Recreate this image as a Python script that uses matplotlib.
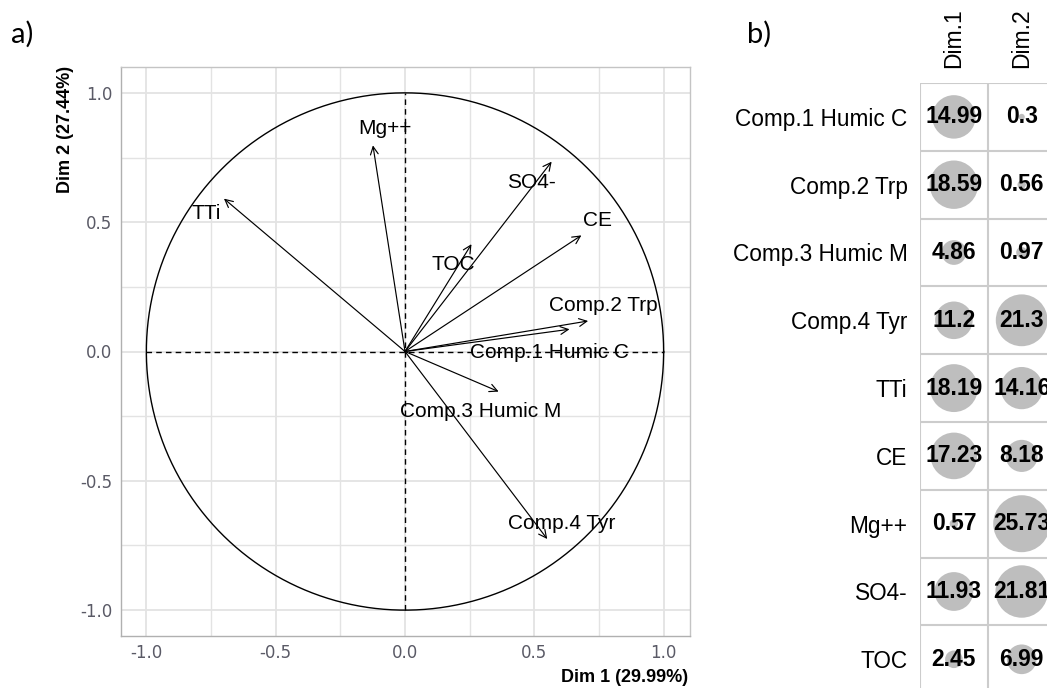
import matplotlib.pyplot as plt
import numpy as np

# PCA variables (correlation circle coords)
variables = ["Comp.1 Humic C", "Comp.2 Trp", "Comp.3 Humic M", "Comp.4 Tyr",
             "TTi", "CE", "Mg++", "SO4-", "TOC"]
dim1 = [0.636, 0.708, 0.362, 0.550, -0.700, 0.682, -0.124, 0.567, 0.257]
dim2 = [0.086, 0.118, -0.155, -0.725, 0.591, 0.449, 0.797, 0.734, 0.415]

# contributions (%) for panel b
contrib1 = [14.99, 18.59, 4.86, 11.2, 18.19, 17.23, 0.57, 11.93, 2.45]
contrib2 = [0.3, 0.56, 0.97, 21.3, 14.16, 8.18, 25.73, 21.81, 6.99]
contrib_cols = ["Dim.1", "Dim.2"]

xlab = "Dim 1 (29.99%)"
ylab = "Dim 2 (27.44%)"

# label offsets in pixels (dx, dy) from arrow tip
label_off = {"Comp.1 Humic C": (-20, -23), "Comp.2 Trp": (15, 15),
             "Comp.3 Humic M": (-18, -20), "Comp.4 Tyr": (14, 16),
             "TTi": (-18, -15), "CE": (16, 15), "Mg++": (12, 17),
             "SO4-": (-20, -21), "TOC": (-18, -20)}

W, H = 1047, 688
fig = plt.figure(figsize=(W / 100, H / 100), dpi=100)

# ---- panel a ----
ax = fig.add_axes([120 / W, 1 - 636 / H, 570 / W, 569 / H])
ax.set_xlim(-1.1, 1.1)
ax.set_ylim(-1.1, 1.1)
ax.set_xticks([-1, -0.5, 0, 0.5, 1])
ax.set_yticks([-1, -0.5, 0, 0.5, 1])
ax.set_xticks([-0.75, -0.25, 0.25, 0.75], minor=True)
ax.set_yticks([-0.75, -0.25, 0.25, 0.75], minor=True)
ax.set_xticklabels(["-1.0", "-0.5", "0.0", "0.5", "1.0"])
ax.set_yticklabels(["-1.0", "-0.5", "0.0", "0.5", "1.0"])
ax.grid(which="major", color="#E3E3E3", lw=1.3)
ax.grid(which="minor", color="#E3E3E3", lw=1.0)
ax.set_axisbelow(True)
ax.tick_params(which="both", length=0, labelsize=12, labelcolor="#5A5A66", pad=6)
for s in ax.spines.values():
    s.set_color("#C4C4C4")
    s.set_linewidth(1.0)
ax.spines["left"].set_color("#B0B0B0")
ax.spines["bottom"].set_color("#B0B0B0")

t = np.linspace(0, 2 * np.pi, 400)
ax.plot(np.cos(t), np.sin(t), color="black", lw=1.0)
ax.plot([-1, 1], [0, 0], color="black", ls=(0, (4, 3)), lw=1.0)
ax.plot([0, 0], [-1, 1], color="black", ls=(0, (4, 3)), lw=1.0)

for name, x, y in zip(variables, dim1, dim2):
    ax.annotate("", xy=(x, y), xytext=(0, 0),
                arrowprops=dict(arrowstyle="->", color="black", lw=0.85,
                                mutation_scale=14, shrinkA=0, shrinkB=0))
    dx, dy = label_off[name]
    ax.annotate(name, xy=(x, y), xytext=(dx * 0.72, dy * 0.72), textcoords="offset points",
                ha="center", va="center", fontsize=15, family="Liberation Sans")

ax.set_aspect("equal")
fig.text(688 / W, 1 - 677 / H, xlab, ha="right", va="center", fontsize=13,
         fontweight="bold", family="Liberation Sans")
fig.text(65 / W, 1 - 66 / H, ylab, ha="center", va="top", rotation=90, fontsize=13,
         fontweight="bold", family="Liberation Sans")

fig.text(11 / W, 1 - 34 / H, "a)", ha="left", va="center", fontsize=21, family="Lato")
fig.text(747 / W, 1 - 34 / H, "b)", ha="left", va="center", fontsize=21, family="Lato")

# ---- panel b ----
cell = 67.8
nrow = len(variables)
bx = fig.add_axes([920 / W, 1 - (83 + nrow * cell) / H, 2 * cell / W, nrow * cell / H])
bx.set_xlim(-0.5, 1.5)
bx.set_ylim(nrow - 0.5, -0.5)
vmax = max(max(contrib1), max(contrib2))
for j, vals in enumerate([contrib1, contrib2]):
    xs = [j] * nrow
    ys = list(range(nrow))
    bx.scatter(xs, ys, s=[v / vmax * 41 ** 2 for v in vals], color="#BEBEBE",
               edgecolors="none", zorder=2)
    for i, v in enumerate(vals):
        bx.text(j, i, str(v), ha="center", va="center", fontsize=16.5,
                fontweight="bold", family="Liberation Sans", zorder=3)
for k in range(nrow + 1):
    bx.axhline(k - 0.5, color="#CCCCCC", lw=1.5, zorder=1)
for k in range(3):
    bx.axvline(k - 0.5, color="#CCCCCC", lw=1.5, zorder=1)
for s in bx.spines.values():
    s.set_visible(False)
bx.set_yticks(range(nrow))
bx.set_yticklabels(variables, fontsize=16.3, family="Liberation Sans")
bx.xaxis.tick_top()
bx.set_xticks([0, 1])
bx.set_xticklabels(contrib_cols, rotation=90, fontsize=16.5, family="Liberation Sans")
bx.tick_params(axis="y", length=0, pad=9)
bx.tick_params(axis="x", length=0, pad=11)

fig.savefig("out.png", dpi=100)
